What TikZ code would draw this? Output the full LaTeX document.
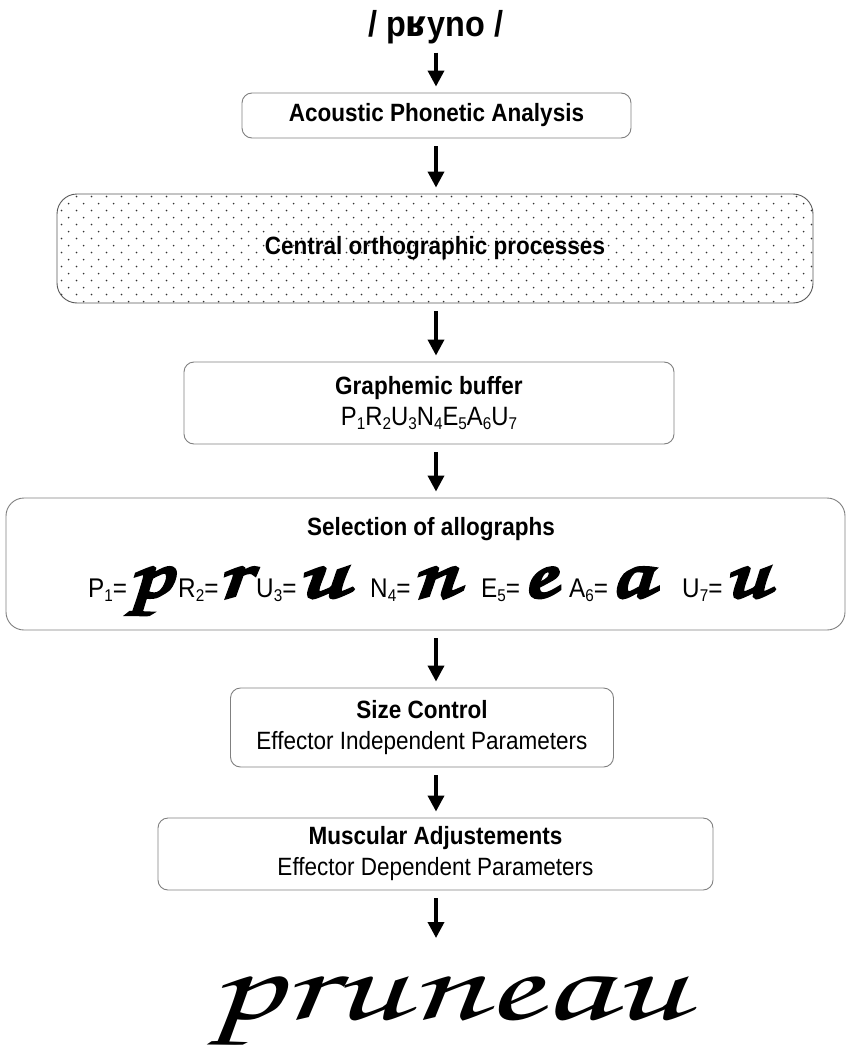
\documentclass[tikz,border=0pt]{standalone}
\usepackage{fontspec}
\setmainfont{Liberation Sans}[FakeStretch=0.9]
\newfontfamily\ipafont{DejaVu Sans}[FakeStretch=0.92]
\newfontfamily\handfont{texgyrechorus-mediumitalic.otf}
\newfontfamily\handboldfont{texgyrechorus-mediumitalic.otf}[FakeBold=4]
\usetikzlibrary{arrows.meta,patterns}

% staggered dot screen for the central box
\pgfdeclarepatternformonly{stagdots}{\pgfqpoint{0pt}{0pt}}{\pgfqpoint{14.6pt}{14.4pt}}{\pgfqpoint{14.6pt}{14.4pt}}{%
  \pgfpathcircle{\pgfqpoint{3.65pt}{3.6pt}}{0.95pt}%
  \pgfpathcircle{\pgfqpoint{10.95pt}{10.8pt}}{0.95pt}%
  \pgfusepath{fill}}

% lowered index digits
\newcommand{\idx}[1]{\raisebox{-0.3ex}{\fontsize{17pt}{17pt}\selectfont #1}}
\newcommand{\sidx}[1]{\raisebox{-0.35ex}{\fontsize{17pt}{17pt}\selectfont #1}}
% cursive allograph, widened
\newcommand{\allog}[2][1.35]{\scalebox{#1}[1]{#2}}

\tikzset{
  stage/.style={draw=black!50, line width=0.9pt, rounded corners=10pt,
    align=center, inner sep=0pt, font=\fontsize{25pt}{31pt}\selectfont},
  flow/.style={line width=3.6pt, -{Triangle[width=16pt,length=16pt]},
    shorten <=8pt, shorten >=6pt},
  lab/.style={inner sep=0pt, anchor=base west, font=\fontsize{27pt}{27pt}\selectfont},
  allo/.style={inner sep=0pt, anchor=base west, font=\handboldfont\fontsize{72pt}{72pt}\selectfont}
}

\begin{document}
\begin{tikzpicture}[x=1pt,y=-1pt]
\useasboundingbox (0,0) rectangle (847,1046);
\fill[white] (0,0) rectangle (847,1046);

\coordinate (axis) at (436,0);

% input
\node[inner sep=0pt, anchor=base, font=\bfseries\fontsize{36pt}{36pt}\selectfont] (input) at (436,37)
  {/ p{\ipafont\bfseries ʁ}yno /};

% processing stages
\node[stage, minimum width=389pt, minimum height=45pt] (apa) at (436.5,115.5)
  {\bfseries Acoustic Phonetic Analysis};

\node[stage, draw=black!65, rounded corners=20pt, minimum width=756pt, minimum height=109pt,
      pattern=stagdots, pattern color=black!80] (cop) at (435,248.5) {};
\node[inner sep=0pt, font=\bfseries\fontsize{25pt}{25pt}\selectfont] (coplab) at (cop.center)
  {Central orthographic processes};

\node[stage, minimum width=490pt, minimum height=82pt] (gb) at (429,403)
  {\bfseries Graphemic buffer\\ \fontsize{26.5pt}{31pt}\selectfont P\idx1R\idx2U\idx3N\idx4E\idx5A\idx6U\idx7};

\node[stage, rounded corners=18pt, minimum width=839pt, minimum height=132pt] (sel) at (425.5,564) {};
\node[inner sep=0pt, font=\bfseries\fontsize{25pt}{25pt}\selectfont] (sellab) at (431,529)
  {Selection of allographs};

% allograph row: index label, then its cursive form
\node[lab] (l1) at (88,597) {P\sidx1=};
\node[allo] (g1) at (128,597) {\allog{p}};
\node[lab] (l2) at (178,597) {R\sidx2=};
\node[allo] (g2) at (218,597) {\allog{r}};
\node[lab] (l3) at (256,597) {U\sidx3=};
\node[allo] (g3) at (297,597) {\allog[1.5]{u}};
\node[lab] (l4) at (370,597) {N\sidx4=};
\node[allo] (g4) at (412,597) {\allog{n}};
\node[lab] (l5) at (481,597) {E\sidx5=};
\node[allo] (g5) at (522,597) {\allog{e}};
\node[lab] (l6) at (569,597) {A\sidx6=};
\node[allo] (g6) at (610,597) {\allog{a}};
\node[lab] (l7) at (682,597) {U\sidx7=};
\node[allo] (g7) at (724,597) {\allog{u}};

\node[stage, minimum width=383pt, minimum height=79pt] (size) at (422,727.5)
  {\bfseries Size Control\\ Effector Independent Parameters};

\node[stage, minimum width=555pt, minimum height=72pt] (musc) at (435.5,854)
  {\bfseries Muscular Adjustements\\ Effector Dependent Parameters};

% written output
\node[inner sep=0pt, anchor=base, font=\handfont\fontsize{104pt}{104pt}\selectfont] (out) at (448,1019)
  {\scalebox{1.6}[1]{pruneau}};
\coordinate (outtop) at (436,944);

% connectors
\draw[flow] (input.south -| axis) -- (apa.north -| axis);
\draw[flow] (apa.south -| axis) -- (cop.north -| axis);
\draw[flow] (cop.south -| axis) -- (gb.north -| axis);
\draw[flow] (gb.south -| axis) -- (sel.north -| axis);
\draw[flow] (sel.south -| axis) -- (size.north -| axis);
\draw[flow] (size.south -| axis) -- (musc.north -| axis);
\draw[flow] (musc.south -| axis) -- (outtop);
\end{tikzpicture}
\end{document}
